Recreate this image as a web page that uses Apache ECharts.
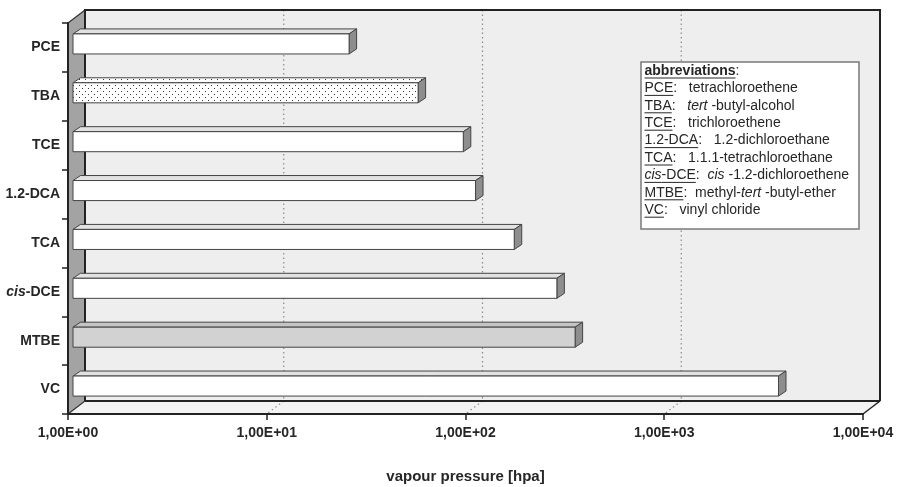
<!DOCTYPE html>
<html><head><meta charset="utf-8">
<script src="https://cdn.jsdelivr.net/npm/echarts@6/dist/echarts.min.js"></script>
<style>html,body{margin:0;padding:0;background:#fff}#c{width:900px;height:487px}</style>
</head><body><div id="c"></div>
<script>
// ---------- data ----------
const categories = ['PCE', 'TBA', 'TCE', '1.2-DCA', 'TCA', 'cis-DCE', 'MTBE', 'VC'];
const vapourPressure = [24.5, 54.5, 92, 106, 166, 272, 336, 3545];
const xTickValues = [1, 10, 100, 1000, 10000];
const xTickLabels = ['1,00E+00', '1,00E+01', '1,00E+02', '1,00E+03', '1,00E+04'];
const axisTitle = 'vapour pressure [hpa]';
const noteLines = [
  [['abbreviations', 'bu'], [':', '']],
  [['PCE', 'u'], [':   tetrachloroethene', '']],
  [['TBA', 'u'], [':   ', ''], ['tert', 'i'], [' -butyl-alcohol', '']],
  [['TCE', 'u'], [':   trichloroethene', '']],
  [['1.2-DCA', 'u'], [':   1.2-dichloroethane', '']],
  [['TCA', 'u'], [':   1.1.1-tetrachloroethane', '']],
  [['cis', 'ui'], ['-DCE', 'u'], [':  ', ''], ['cis', 'i'], [' -1.2-dichloroethene', '']],
  [['MTBE', 'u'], [':  methyl-', ''], ['tert', 'i'], [' -butyl-ether', '']],
  [['VC', 'u'], [':   vinyl chloride', '']]
];

// ---------- styling ----------
const DX = 17, DY = -13;            // depth of the box
const BFX = 5, BFY = -3.5;          // bar front-face offset
const BDX = 7.5, BDY = -5;          // bar depth
const barKind = { 'TBA': 'dots', 'MTBE': 'gray' };
const FONT = '"Liberation Sans", Arial, sans-serif';
const INK = '#262626';

function dotPattern() {
  const c = document.createElement('canvas');
  c.width = 6; c.height = 6;
  const g = c.getContext('2d');
  g.fillStyle = '#ffffff'; g.fillRect(0, 0, 6, 6);
  g.fillStyle = '#3a3a3a';
  g.fillRect(1, 1, 1, 1); g.fillRect(4, 4, 1, 1);
  return c;
}
const dots = { image: dotPattern(), repeat: 'repeat' };

function renderFrame(params, api) {
  const cs = params.coordSys;
  const L = cs.x, T = cs.y, R = cs.x + cs.width, B = cs.y + cs.height;
  const ch = [];
  ch.push({ type: 'rect', shape: { x: L + DX, y: T + DY, width: cs.width, height: cs.height },
    style: { fill: '#eeeeee' } });
  ch.push({ type: 'polygon', shape: { points: [[L, B], [R, B], [R + DX, B + DY], [L + DX, B + DY]] },
    style: { fill: '#f3f3f3' } });
  xTickValues.slice(1, -1).forEach(v => {
    const x = api.coord([v, 0])[0];
    ch.push({ type: 'line', shape: { x1: x + DX, y1: T + DY, x2: x + DX, y2: B + DY },
      style: { stroke: '#8a8a8a', lineWidth: 1.2, lineDash: [1.5, 3] } });
    ch.push({ type: 'line', shape: { x1: x + DX, y1: B + DY, x2: x, y2: B },
      style: { stroke: '#8a8a8a', lineWidth: 1.2, lineDash: [1.5, 3] } });
  });
  ch.push({ type: 'polygon', shape: { points: [[L, T], [L + DX, T + DY], [L + DX, B + DY], [L, B]] },
    style: { fill: '#a3a3a3', stroke: '#333', lineWidth: 1.2 } });
  ch.push({ type: 'polyline', shape: { points: [[L + DX, B + DY], [L + DX, T + DY], [R + DX, T + DY], [R + DX, B + DY]] },
    style: { stroke: '#222', lineWidth: 2, fill: null } });
  ch.push({ type: 'line', shape: { x1: L + DX, y1: B + DY, x2: R + DX, y2: B + DY },
    style: { stroke: '#222', lineWidth: 2 } });
  ch.push({ type: 'line', shape: { x1: R, y1: B, x2: R + DX, y2: B + DY },
    style: { stroke: '#222', lineWidth: 1.5 } });
  return { type: 'group', children: ch };
}

function renderBar(params, api) {
  const cs = params.coordSys;
  const v = api.value(0), i = api.value(1);
  const p0 = api.coord([1, i]), p1 = api.coord([v, i]);
  const h = cs.height / categories.length * 0.41;
  const x0 = p0[0] + BFX, x1 = p1[0] + BFX;
  const top = p0[1] + BFY - h / 2, bot = top + h;
  const kind = barKind[categories[i]];
  const front = kind === 'dots' ? dots : (kind === 'gray' ? '#d2d2d2' : '#ffffff');
  const topFill = kind === 'dots' ? dots : (kind === 'gray' ? '#c4c4c4' : '#e2e2e2');
  const st = { stroke: '#444', lineWidth: 1 };
  return { type: 'group', children: [
    { type: 'polygon', shape: { points: [[x0, top], [x1, top], [x1 + BDX, top + BDY], [x0 + BDX, top + BDY]] },
      style: Object.assign({ fill: topFill }, st) },
    { type: 'polygon', shape: { points: [[x1, top], [x1 + BDX, top + BDY], [x1 + BDX, bot + BDY], [x1, bot]] },
      style: Object.assign({ fill: '#8e8e8e' }, st) },
    { type: 'rect', shape: { x: x0, y: top, width: x1 - x0, height: h },
      style: Object.assign({ fill: front }, st) }
  ] };
}

// ---------- note box ----------
const mctx = document.createElement('canvas').getContext('2d');
function segFont(f) {
  return (f.includes('i') ? 'italic ' : '') + (f.includes('b') ? 'bold ' : '') + '14px ' + FONT;
}
function buildNotes() {
  const els = [{ type: 'rect', z: 20, shape: { x: 641, y: 62, width: 218, height: 167 },
    style: { fill: '#ffffff', stroke: '#7a7a7a', lineWidth: 1.5 } }];
  noteLines.forEach((line, k) => {
    let x = 644.5;
    const y = 71 + k * 17.4;
    line.forEach(([txt, f]) => {
      const font = segFont(f);
      mctx.font = font;
      const w = mctx.measureText(txt).width;
      els.push({ type: 'text', z: 21, x: x, y: y,
        style: { text: txt, font: font, fill: INK, verticalAlign: 'middle', align: 'left' } });
      if (f.includes('u')) {
        els.push({ type: 'line', z: 21, shape: { x1: x, y1: y + 7, x2: x + w, y2: y + 7 },
          style: { stroke: INK, lineWidth: 1 } });
      }
      x += w;
    });
  });
  return els;
}

const chart = echarts.init(document.getElementById('c'), null, { renderer: 'canvas' });
chart.setOption({
  animation: false,
  backgroundColor: '#ffffff',
  grid: { left: 68, right: 37, top: 23, bottom: 73, containLabel: false, outerBoundsMode: 'none' },
  xAxis: {
    type: 'log', logBase: 10, min: 1, max: 10000, z: 5,
    axisLine: { show: true, lineStyle: { color: '#222', width: 2 } },
    axisTick: { show: true, length: 6, lineStyle: { color: '#222', width: 1.5 } },
    minorTick: { show: false },
    splitLine: { show: false },
    axisLabel: {
      margin: 12, color: INK, fontFamily: FONT, fontWeight: 'bold', fontSize: 14,
      formatter: v => { const k = xTickValues.findIndex(t => Math.abs(t - v) < 1e-6 * t); return k >= 0 ? xTickLabels[k] : ''; }
    },
    name: axisTitle, nameLocation: 'middle', nameGap: 55,
    nameTextStyle: { color: INK, fontFamily: FONT, fontWeight: 'bold', fontSize: 15 }
  },
  yAxis: {
    type: 'category', data: categories, inverse: true, z: 5,
    axisLine: { show: true, lineStyle: { color: '#222', width: 2 } },
    axisTick: { show: true, length: 6, lineStyle: { color: '#222', width: 1.5 } },
    splitLine: { show: false },
    axisLabel: {
      margin: 8, color: INK,
      formatter: v => v === 'cis-DCE' ? '{i|cis}{b|-DCE}' : '{b|' + v + '}',
      rich: {
        b: { fontFamily: FONT, fontWeight: 'bold', fontSize: 14, color: INK },
        i: { fontFamily: FONT, fontWeight: 'bold', fontStyle: 'italic', fontSize: 14, color: INK }
      }
    }
  },
  series: [
    { type: 'custom', name: 'frame', z: 1, clip: false, silent: true,
      renderItem: renderFrame, data: [[1, 0]] },
    { type: 'custom', name: 'vapour pressure', z: 2, clip: false,
      renderItem: renderBar, data: vapourPressure.map((v, i) => [v, i]) }
  ],
  graphic: buildNotes()
});
</script></body></html>
